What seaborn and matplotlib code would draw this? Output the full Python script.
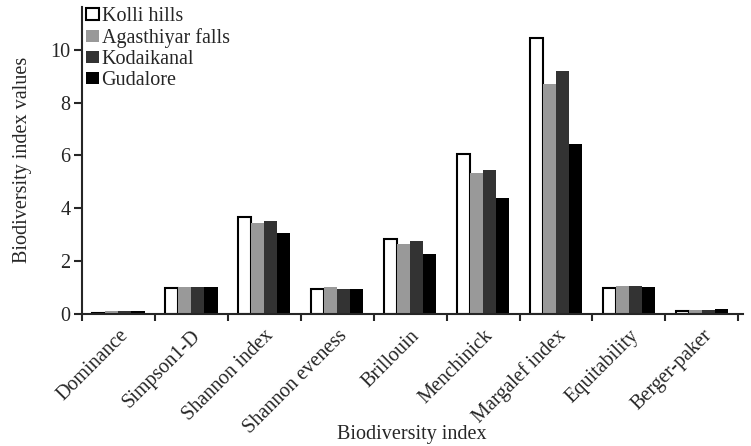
import numpy as np
import pandas as pd
import seaborn as sns
import matplotlib
matplotlib.use('Agg')
import matplotlib.pyplot as plt
import matplotlib.transforms as mtransforms
from matplotlib.patches import Patch

# Biodiversity indices for each site
indices = ['Dominance', 'Simpson1-D', 'Shannon index', 'Shannon eveness', 'Brillouin',
           'Menchinick', 'Margalef index', 'Equitability', 'Berger-paker']
sites = ['Kolli hills', 'Agasthiyar falls', 'Kodaikanal', 'Gudalore']
kolli = [0.03, 0.98, 3.68, 0.92, 2.82, 6.07, 10.45, 0.97, 0.08]
agasthiyar = [0.08, 1.01, 3.45, 1.01, 2.63, 5.35, 8.70, 1.05, 0.12]
kodaikanal = [0.08, 1.01, 3.52, 0.95, 2.76, 5.43, 9.22, 1.05, 0.13]
gudalore = [0.11, 1.00, 3.05, 0.95, 2.27, 4.40, 6.45, 1.00, 0.17]
colors = ['white', '#999999', '#333333', 'black']

df = pd.DataFrame({'index': indices, sites[0]: kolli, sites[1]: agasthiyar,
                   sites[2]: kodaikanal, sites[3]: gudalore})
df = df.melt(id_vars='index', var_name='site', value_name='value')

sns.set_style('ticks')
plt.rcParams['font.family'] = ['Liberation Serif', 'DejaVu Serif']
fs = 14.5

fig = plt.figure(figsize=(7.51, 4.46), dpi=100)
ax = fig.add_axes([0.109, 0.297, 0.880, 0.687])

sns.barplot(data=df, x='index', y='value', hue='site', hue_order=sites, palette=colors,
            width=0.72, saturation=1, legend=False, ax=ax)

# kolli hills bars drawn as outlines
for i, cont in enumerate(ax.containers):
    for bar in cont:
        if i == 0:
            bar.set_edgecolor('black')
            bar.set_linewidth(1.5)
        else:
            bar.set_edgecolor(colors[i])
            bar.set_linewidth(0)

ax.set_ylim(0, 11.63)
ax.set_xlim(-0.5, 8.56)
ax.set_yticks([0, 2, 4, 6, 8, 10])
ax.set_xticks(np.arange(-0.5, 9, 1), minor=True)
ax.tick_params(axis='x', which='major', length=0, pad=10, labelsize=fs)
ax.tick_params(axis='x', which='minor', length=5, width=1.5, direction='out')
ax.tick_params(axis='y', length=6, width=1.5, pad=2, labelsize=fs)
offset = mtransforms.ScaledTranslation(5 / 72, -4 / 72, fig.dpi_scale_trans)
for lab in ax.get_xticklabels():
    lab.set_rotation(45)
    lab.set_ha('right')
    lab.set_va('center')
    lab.set_rotation_mode('anchor')
    lab.set_transform(lab.get_transform() + offset)

sns.despine(ax=ax)
for s in ['left', 'bottom']:
    ax.spines[s].set_linewidth(1.5)

ax.set_xlabel('Biodiversity index', fontsize=fs, va='center')
ax.set_ylabel('Biodiversity index values', fontsize=fs, va='center')
ax.xaxis.set_label_coords(0.5, -0.396)
ax.yaxis.set_label_coords(-0.09, 0.5)

handles = [Patch(facecolor=c, edgecolor='black' if i == 0 else c, linewidth=1.5 if i == 0 else 0)
           for i, c in enumerate(colors)]
ax.legend(handles=handles, labels=sites, loc='upper left', bbox_to_anchor=(0.007, 1.0),
          frameon=False, fontsize=fs, handlelength=0.6, handleheight=0.6,
          handletextpad=0.15, labelspacing=0.1, borderpad=0, borderaxespad=0)

plt.savefig('out.png', dpi=100)
